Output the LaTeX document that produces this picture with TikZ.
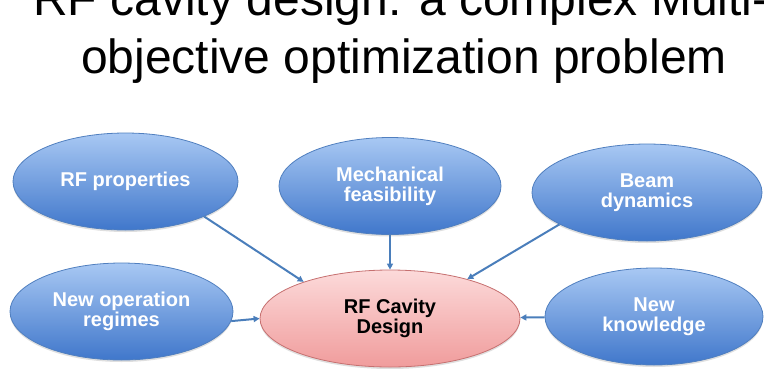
\documentclass[tikz,border=0pt]{standalone}
\usepackage{fontspec}
\setmainfont{Liberation Sans}
\usetikzlibrary{shapes.geometric,arrows.meta,shadows}
\definecolor{bluetop}{RGB}{168,200,243}
\definecolor{bluebot}{RGB}{64,119,203}
\definecolor{blueline}{RGB}{80,127,191}
\definecolor{pinktop}{RGB}{252,218,218}
\definecolor{pinkbot}{RGB}{240,156,156}
\definecolor{pinkline}{RGB}{198,112,112}
\definecolor{arrowblue}{RGB}{74,126,187}
\tikzset{
  aim/.style = {ellipse, draw = blueline, line width = 0.8pt, top color = bluetop, bottom color = bluebot,
    text = white, font = \fontsize{20}{20}\selectfont\bfseries, align = center, inner sep = 0pt,
    minimum height = 97pt, drop shadow = {opacity = 0.25, shadow xshift = 0pt, shadow yshift = -2pt}},
  goal/.style = {aim, draw = pinkline, top color = pinktop, bottom color = pinkbot, text = black},
  feed/.style = {draw = arrowblue, line width = 2pt, -{Triangle[length = 6pt, width = 6pt]}}
}
\begin{document}
\begin{tikzpicture}[x = 1pt, y = -1pt]
        \useasboundingbox (0, 0) rectangle (764, 368);
        \clip (0, 0) rectangle (764, 368);
        \node[anchor = base, font = \fontsize{48}{58}\selectfont] (title1) at (401, 15) {RF cavity design: a complex Multi-};
        \node[anchor = base, font = \fontsize{48}{58}\selectfont] (title2) at (404, 73) {objective optimization problem};
        \foreach \nm/\px/\py/\ew/\txt in {rfprop/125.5/181.5/225/{RF properties}, mech/390/186/222/{Mechanical\\feasibility}, beam/647/192.5/230/{Beam\\dynamics}, newop/121.5/311.5/223/{New operation\\regimes}, know/654/316.5/218/{New\\knowledge}}{
            \node[aim, minimum width = \ew pt] (\nm) at (\px, \py) {\txt};
        }
        \node[goal, minimum width = 260pt] (cavity) at (390, 318.5) {RF Cavity\\Design};
        \draw[feed] (rfprop.-24) -- (cavity.157);
        \draw[feed] (mech) -- (cavity);
        \draw[feed] (beam.-160) -- (cavity.27);
        \draw[feed] (newop.-5) -- (cavity.west);
        \draw[feed] (know) -- (cavity);
    \end{tikzpicture}
\end{document}
